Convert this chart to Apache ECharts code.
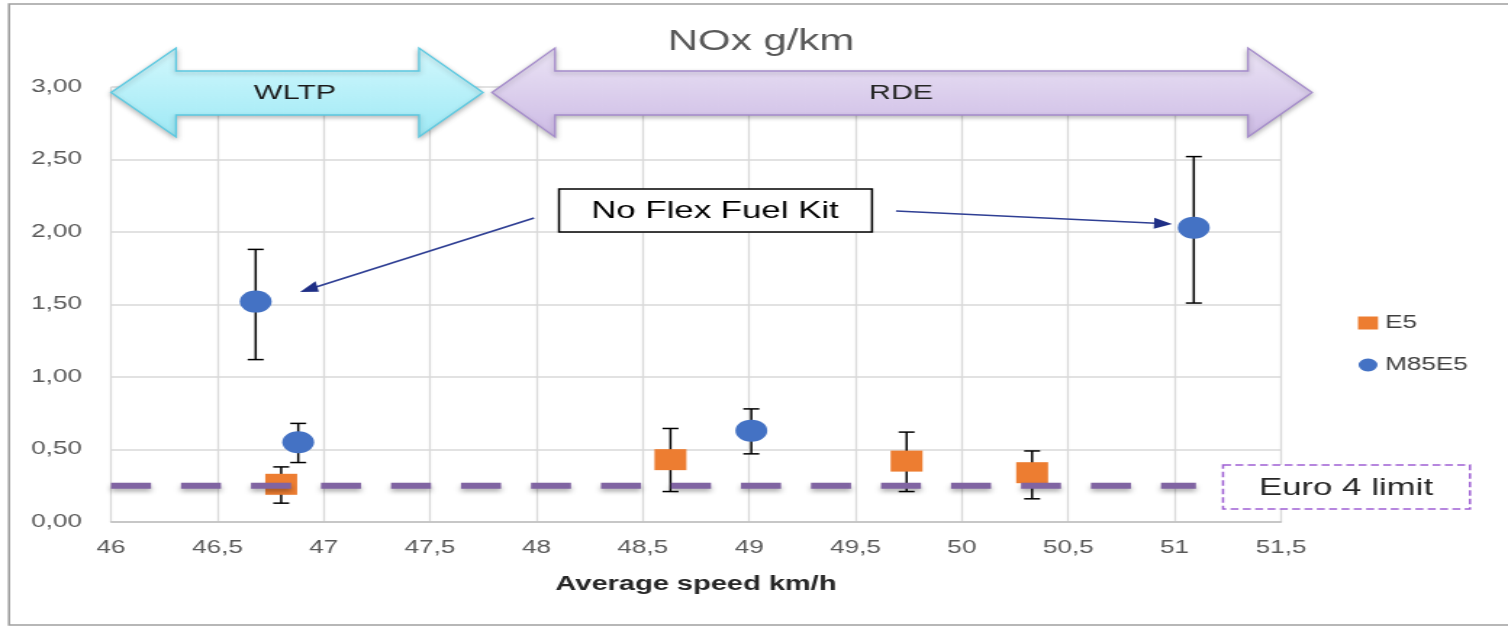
<!DOCTYPE html>
<html><head><meta charset="utf-8">
<script src="https://cdn.jsdelivr.net/npm/echarts@6/dist/echarts.min.js"></script>
<style>
html,body{margin:0;padding:0;background:#fff;overflow:hidden;width:1508px;height:627px}
#wrap{width:1040px;height:627px;transform:scaleX(1.45);transform-origin:0 0}
</style>
</head><body><div id="wrap"></div>
<script>
// ---- data ----
const seriesNames = ['E5', 'M85E5'];
const e5Speed = [46.80, 48.63, 49.74, 50.33];
const e5Nox = [0.26, 0.43, 0.42, 0.34];
const e5Low = [0.13, 0.21, 0.21, 0.16];
const e5High = [0.38, 0.645, 0.62, 0.49];
const m85Speed = [46.68, 46.88, 49.01, 51.09];
const m85Nox = [1.52, 0.55, 0.63, 2.03];
const m85Low = [1.12, 0.41, 0.47, 1.51];
const m85High = [1.88, 0.68, 0.78, 2.52];
const euro4Limit = 0.25;
const euro4Span = [46, 51.1];
const xTickLabels = ['46', '46,5', '47', '47,5', '48', '48,5', '49', '49,5', '50', '50,5', '51', '51,5'];
const yTickLabels = ['0,00', '0,50', '1,00', '1,50', '2,00', '2,50', '3,00'];

// ---- layout helpers (reference pixel x -> unstretched x) ----
const S = 1.45;
const X = px => px / S;
const FONT = '"Liberation Sans", Arial, sans-serif';

function errorBars(name, xs, lo, hi) {
  return {
    type: 'custom', name: name + ' error', z: 1, silent: true,
    data: xs.map((x, i) => [x, lo[i], hi[i]]),
    encode: { x: 0, y: [1, 2] },
    renderItem(params, api) {
      const x = api.value(0);
      const a = api.coord([x, api.value(1)]);
      const b = api.coord([x, api.value(2)]);
      const hw = 5.5;
      const st = { stroke: '#000', lineWidth: 1.5 };
      return { type: 'group', children: [
        { type: 'line', shape: { x1: a[0], y1: a[1], x2: b[0], y2: b[1] }, style: st },
        { type: 'line', shape: { x1: a[0] - hw, y1: a[1], x2: a[0] + hw, y2: a[1] }, style: st },
        { type: 'line', shape: { x1: b[0] - hw, y1: b[1], x2: b[0] + hw, y2: b[1] }, style: st }
      ]};
    }
  };
}

function doubleArrow(x0, xb0, xb1, x1, yTop, yShaftT, yShaftB, yBot, c1, c2, stroke) {
  const yc = (yTop + yBot) / 2;
  const pts = [[x0, yc], [xb0, yTop], [xb0, yShaftT], [xb1, yShaftT], [xb1, yTop], [x1, yc],
               [xb1, yBot], [xb1, yShaftB], [xb0, yShaftB], [xb0, yBot]].map(p => [X(p[0]), p[1]]);
  return {
    type: 'polygon', z: 10,
    shape: { points: pts },
    style: {
      fill: new echarts.graphic.LinearGradient(0, 0, 0, 1, [{ offset: 0, color: c1 }, { offset: 1, color: c2 }]),
      stroke: stroke, lineWidth: 1.3,
      shadowBlur: 4, shadowOffsetY: 2, shadowColor: 'rgba(0,0,0,0.25)'
    }
  };
}

function lineArrow(x1, y1, x2, y2) {
  const dx = x2 - x1, dy = y2 - y1, len = Math.hypot(dx, dy);
  const ux = dx / len, uy = dy / len, L = 18, hw = 5.5;
  const bx = x2 - ux * L, by = y2 - uy * L;
  const nx = -uy, ny = ux;
  return [
    { type: 'line', z: 10, shape: { x1: X(x1), y1: y1, x2: X(bx + ux * 2), y2: by + uy * 2 },
      style: { stroke: '#2f3f94', lineWidth: 1.6 } },
    { type: 'polygon', z: 10,
      shape: { points: [[X(x2), y2], [X(bx + nx * hw), by + ny * hw], [X(bx - nx * hw), by - ny * hw]] },
      style: { fill: '#1f2f86' } }
  ];
}

const chart = echarts.init(document.getElementById('wrap'), null, { renderer: 'canvas' });

const option = {
  animation: false,
  backgroundColor: '#fff',
  title: {
    text: 'NOx g/km', left: X(761), top: 27, padding: 0, textAlign: 'center',
    textStyle: { fontSize: 29, fontWeight: 'normal', color: '#595959', fontFamily: FONT }
  },
  legend: {
    data: [{ name: 'E5', icon: 'rect' }, { name: 'M85E5', icon: 'circle' }],
    orient: 'vertical', left: X(1358), top: 314, padding: 0,
    itemWidth: X(20), itemHeight: 13, itemGap: 24,
    textStyle: { fontSize: 18, color: '#404040', fontFamily: FONT }
  },
  grid: { left: X(111), right: 1040 - X(1281), top: 87, bottom: 627 - 522, containLabel: false },
  xAxis: {
    type: 'value', min: 46, max: 51.5, interval: 0.5,
    name: 'Average speed km/h', nameLocation: 'middle', nameGap: 52,
    nameTextStyle: { fontSize: 20, fontWeight: 'bold', color: '#262626', fontFamily: FONT },
    axisLine: { show: true, lineStyle: { color: '#bfbfbf', width: 1.5 } },
    axisTick: { show: false },
    axisLabel: {
      fontSize: 18, color: '#595959', fontFamily: FONT, margin: 17,
      formatter: v => xTickLabels[Math.round((v - 46) / 0.5)]
    },
    splitLine: { show: true, lineStyle: { color: '#d9d9d9', width: 1.3 } }
  },
  yAxis: {
    type: 'value', min: 0, max: 3, interval: 0.5,
    axisLine: { show: false }, axisTick: { show: false },
    axisLabel: {
      fontSize: 18, color: '#595959', fontFamily: FONT, margin: X(29),
      formatter: v => yTickLabels[Math.round(v / 0.5)]
    },
    splitLine: { show: true, lineStyle: { color: '#d9d9d9', width: 1.5 } }
  },
  series: [
    errorBars('E5', e5Speed, e5Low, e5High),
    errorBars('M85E5', m85Speed, m85Low, m85High),
    {
      name: 'E5', type: 'scatter', z: 2, symbol: 'rect', symbolSize: [22, 21],
      itemStyle: { color: '#ed7d31', opacity: 1 },
      data: e5Speed.map((x, i) => [x, e5Nox[i]])
    },
    {
      name: 'M85E5', type: 'scatter', z: 2, symbol: 'circle', symbolSize: 22,
      itemStyle: { color: '#4472c4', opacity: 1 },
      data: m85Speed.map((x, i) => [x, m85Nox[i]])
    },
    {
      name: 'Euro 4 limit', type: 'line', z: 3, symbol: 'none', silent: true,
      lineStyle: { color: '#8064a2', width: 6, type: [X(40), X(30)], cap: 'butt',
        shadowBlur: 4, shadowOffsetY: 3, shadowColor: 'rgba(0,0,0,0.3)' },
      data: euro4Span.map(x => [x, euro4Limit])
    }
  ],
  graphic: [
    { type: 'rect', z: 0, silent: true, shape: { x: X(9), y: 4, width: X(1520) - X(9), height: 621 },
      style: { fill: null, stroke: '#a0a0a0', lineWidth: 1.6 } },
    doubleArrow(111, 176, 419, 483, 48, 71, 115, 137, '#d3f8fd', '#9ee9f5', '#5cc9e1'),
    doubleArrow(492, 555, 1248, 1312, 48, 71, 115, 137, '#ebe4f5', '#cdbbe5', '#a58ccb'),
    { type: 'text', z: 11, x: X(295), y: 93, style: { text: 'WLTP', align: 'center', verticalAlign: 'middle',
      font: '21px ' + FONT, fill: '#1a1a1a' } },
    { type: 'text', z: 11, x: X(901), y: 93, style: { text: 'RDE', align: 'center', verticalAlign: 'middle',
      font: '21px ' + FONT, fill: '#262626' } },
    { type: 'rect', z: 10, shape: { x: X(559), y: 189, width: X(872) - X(559), height: 43 },
      style: { fill: '#fff', stroke: '#000', lineWidth: 1.5 } },
    { type: 'text', z: 11, x: X(715), y: 211, style: { text: 'No Flex Fuel Kit', align: 'center', verticalAlign: 'middle',
      font: '24px ' + FONT, fill: '#000' } },
    ...lineArrow(534, 218, 300, 292),
    ...lineArrow(896, 211, 1172, 224),
    { type: 'rect', z: 10, shape: { x: X(1223), y: 465, width: X(1470) - X(1223), height: 44 },
      style: { fill: '#fff', stroke: '#9e5fd3', lineWidth: 1.5, lineDash: [5.5, 3] } },
    { type: 'text', z: 11, x: X(1346), y: 488, style: { text: 'Euro 4 limit', align: 'center', verticalAlign: 'middle',
      font: '24px ' + FONT, fill: '#262626' } }
  ]
};
chart.setOption(option);
</script>
</body></html>
